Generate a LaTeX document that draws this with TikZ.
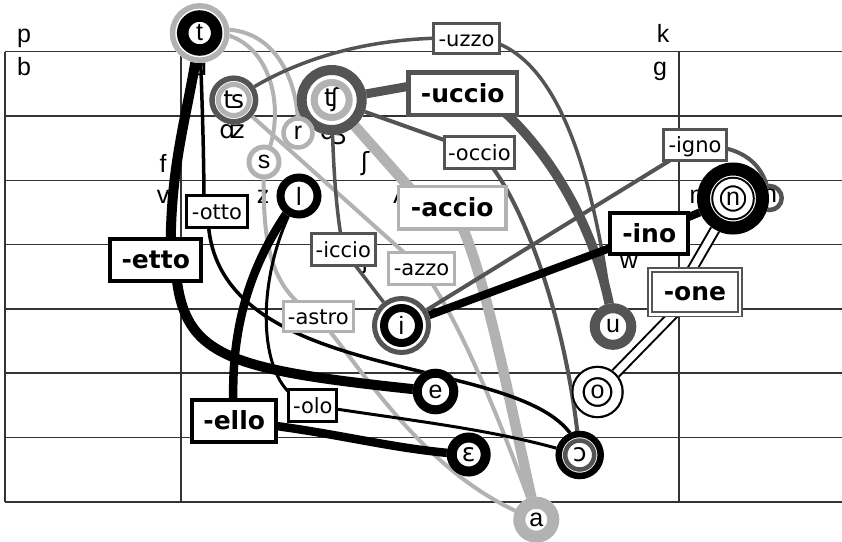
\documentclass[tikz,border=0pt]{standalone}
\usepackage{fontspec}
\setmainfont{DejaVu Sans}
\newfontfamily\latf{Liberation Sans}
\newfontfamily\ipaf{DejaVu Sans}
\usetikzlibrary{calc}
\definecolor{dgr}{gray}{0.33}
\definecolor{lgr}{gray}{0.70}
\definecolor{gridc}{gray}{0.2}
\pgfdeclarelayer{chart}
\pgfdeclarelayer{links}
\pgfsetlayers{chart,links,main}
% concentric ring around a phoneme node: name, colour, radius, width
\newcommand\ringat[4]{\draw[draw=#2, line width=#4pt] (#1.center) circle[radius=#3pt];}

\begin{document}
\begin{tikzpicture}[x=1pt, y=-1pt,
  phone/.style={font=\latf\fontsize{25}{30}\selectfont},
  ipa/.style={font=\ipaf\fontsize{25}{30}\selectfont},
  vtx/.style={circle, fill=white, inner sep=0pt, font=\latf\fontsize{25}{30}\selectfont},
  sfx/.style={rectangle, fill=white, inner sep=0pt, font=\fontsize{21}{25}\selectfont, text height=15.5pt, text depth=0pt},
  sfxb/.style={sfx, font=\bfseries\fontsize{25}{30}\selectfont, text height=17.5pt},
  chartline/.style={draw=gridc, line width=1.5pt},
  lg/.style={draw=lgr, line width=#1pt},
  dg/.style={draw=dgr, line width=#1pt},
  bk/.style={draw=black, line width=#1pt},
  dbl/.style={draw=black, double=white, line width=2pt, double distance=7pt}
]
\useasboundingbox (0,0) rectangle (842,541);

% ---------- consonant chart ----------
\begin{pgfonlayer}{chart}
  \foreach \k in {0,...,7}
    \draw[chartline] (5,{51.7+64.3*\k}) -- (842,{51.7+64.3*\k});
  \foreach \xx in {5,181,679}
    \draw[chartline] (\xx,51.7) -- (\xx,501.8);
  \node[phone, anchor=base] (c-p) at (24,42.5) {p};
  \node[phone, anchor=base] (c-b) at (24,75) {b};
  \node[phone, anchor=base] (c-d) at (200,75) {d};
  \node[phone, anchor=base] (c-k) at (663,42.5) {k};
  \node[phone, anchor=base] (c-g) at (660,75) {g};
  \node[ipa, anchor=base] (c-dz) at (232,138.5) {ʣ};
  \node[ipa, anchor=base] (c-dzh) at (333,139) {ʤ};
  \node[phone, anchor=base] (c-f) at (163,172) {f};
  \node[phone, anchor=base] (c-v) at (163,203) {v};
  \node[phone, anchor=base] (c-z) at (263,203) {z};
  \node[ipa, anchor=base] (c-sh) at (365,170) {ʃ};
  \node[ipa, anchor=base] (c-lj) at (400,203) {ʎ};
  \node[phone, anchor=base] (c-m) at (700,203) {m};
  \node[phone, anchor=base] (c-j) at (365,268) {j};
  \node[phone, anchor=base] (c-w) at (629,268) {w};
\end{pgfonlayer}

% ---------- phoneme nodes ----------
\node[vtx, minimum size=60pt] (t) at (199.7,33) {t};
\ringat{t}{lgr}{27.2}{5.5}
\ringat{t}{black}{17}{11.5}

\node[vtx, ipa, minimum size=49pt] (ts) at (233.8,100) {ʦ};
\ringat{ts}{dgr}{21.8}{5.5}
\ringat{ts}{lgr}{15.5}{5}

\node[vtx, ipa, minimum size=70pt] (tch) at (331.7,100) {ʧ};
\ringat{tch}{dgr}{30}{10}
\ringat{tch}{lgr}{17.5}{7}

\node[vtx, minimum size=33.5pt] (r) at (298,133) {r};
\ringat{r}{lgr}{14.5}{4.5}

\node[vtx, minimum size=35pt] (s) at (264,162) {s};
\ringat{s}{lgr}{15}{5}

\node[vtx, minimum size=45pt] (l) at (299,196) {l};
\ringat{l}{black}{18.5}{8}

\node[vtx, ipa, minimum size=28.5pt] (ny) at (769.7,198) {ɲ};
\ringat{ny}{dgr}{12}{4.5}

\node[vtx, minimum size=72pt] (n) at (733,198.5) {n};
\ringat{n}{black}{29.5}{13}
\ringat{n}{black}{16.5}{10.5}
\ringat{n}{white}{16.5}{6.5}

\node[vtx, minimum size=59pt] (i) at (401.5,325.5) {i};
\ringat{i}{dgr}{27}{5}
\ringat{i}{black}{17.5}{8}

\node[vtx, minimum size=46.6pt] (u) at (613,326.5) {u};
\ringat{u}{dgr}{18.3}{10}

\node[vtx, minimum size=45.6pt] (e) at (435.5,391.5) {e};
\ringat{e}{black}{18.3}{9}

\node[vtx, ipa, minimum size=44pt] (eh) at (468.7,454.5) {ɛ};
\ringat{eh}{black}{17}{10}

\node[vtx, minimum size=52.5pt] (o) at (597.5,392) {o};
\ringat{o}{black}{19.5}{13.5}
\ringat{o}{white}{19.5}{9}

\node[vtx, ipa, minimum size=48.5pt] (oh) at (579.7,455) {ɔ};
\ringat{oh}{black}{21}{6.5}
\ringat{oh}{dgr}{14.5}{4.5}

\node[vtx, minimum size=46pt] (a) at (536.3,519.7) {a};
\ringat{a}{lgr}{17}{12}

% ---------- suffix labels ----------
\node[sfx, draw=dgr, line width=3pt, minimum width=65.4pt, minimum height=30.3pt] (uzzo) at (466.5,38.3) {-uzzo};
\node[sfxb, draw=dgr, line width=4.5pt, minimum width=108.8pt, minimum height=42.8pt] (uccio) at (462.7,93.7) {-uccio};
\node[sfx, draw=dgr, line width=3pt, minimum width=70.3pt, minimum height=32pt] (occio) at (479.3,152.5) {-occio};
\node[sfx, draw=dgr, line width=3pt, minimum width=62.4pt, minimum height=31.6pt] (igno) at (695,145) {-igno};
\node[sfxb, draw=lgr, line width=3.5pt, minimum width=107.5pt, minimum height=42.2pt] (accio) at (452.2,207.8) {-accio};
\node[sfx, draw=black, line width=3pt, minimum width=61pt, minimum height=32pt] (otto) at (217,211.5) {-otto};
\node[sfxb, draw=black, line width=4pt, minimum width=91pt, minimum height=42pt] (etto) at (155.8,259.7) {-etto};
\node[sfx, draw=dgr, line width=3pt, minimum width=63.7pt, minimum height=32pt] (iccio) at (343.3,249.8) {-iccio};
\node[sfx, draw=lgr, line width=3pt, minimum width=65.4pt, minimum height=32pt] (azzo) at (421.5,268.2) {-azzo};
\node[sfxb, draw=black, line width=4pt, minimum width=77.7pt, minimum height=41pt] (ino) at (649.2,233.5) {-ino};
\node[sfxb, draw=dgr, double=white, line width=1.8pt, double distance=2.3pt, minimum width=89.5pt, minimum height=44.7pt] (one) at (695,292) {-one};
\node[sfx, draw=lgr, line width=3pt, minimum width=70.3pt, minimum height=30.3pt] (astro) at (318.3,316.7) {-astro};
\node[sfxb, draw=black, line width=4pt, minimum width=84.3pt, minimum height=41.7pt] (ello) at (234.2,421.2) {-ello};
\node[sfx, draw=black, line width=3pt, minimum width=48pt, minimum height=31.3pt] (olo) at (312.8,405.5) {-olo};

% ---------- connectors ----------
\begin{pgfonlayer}{links}
  % light grey family
  \draw[lg=10.5] (tch.center) -- ($(accio)+(-32,-8)$);
  \draw[lg=10.5] (accio.center) .. controls (480,250) and (505,380) .. (a.center);
  \draw[lg=4] (ts.center) -- (azzo.center);
  \draw[lg=4] (azzo.center) .. controls (460,320) and (500,420) .. (a.center);
  \draw[lg=4] (s.center) .. controls (262,240) and (268,290) .. (astro.center);
  \draw[lg=4] (astro.center) .. controls (370,380) and (430,480) .. (a.center);
  \draw[lg=4] (t.center) .. controls (270,25) and (290,110) .. (s.center);
  \draw[lg=4] (t.center) .. controls (265,15) and (300,70) .. (r.center);
  % dark grey family
  \draw[dg=3.5] (ts.center) .. controls (290,60) and (370,35) .. (uzzo.center);
  \draw[dg=3.5] (uzzo.center) .. controls (540,35) and (590,130) .. (u.center);
  \draw[dg=9] (tch.center) -- ($(uccio)+(-45,-9)$);
  \draw[dg=9.5] ($(uccio)+(20,0)$) .. controls (545,140) and (600,230) .. (u.center);
  \draw[dg=4] (tch.center) -- (occio.center);
  \draw[dg=4] (occio.center) .. controls (520,190) and (568,320) .. (oh.center);
  \draw[dg=3.5] (tch.center) .. controls (333,170) and (336,210) .. (iccio.center);
  \draw[dg=3.5] (iccio.center) -- (i.center);
  \draw[dg=4] (i.center) -- (igno.center);
  \draw[dg=4] (igno.center) .. controls (745,145) and (765,165) .. (ny.center);
  % black family
  \draw[bk=10] (t.center) .. controls (190,110) and (169,160) .. ($(etto)+(15,0)$);
  \draw[bk=10] ($(etto)+(20,10)$) .. controls (183,360) and (230,370) .. (e.center);
  \draw[bk=3.5] (t.center) .. controls (202,100) and (204,150) .. ($(otto)+(-13,0)$);
  \draw[bk=3.5] ($(otto)+(-9,0)$) .. controls (205,400) and (560,345) .. (oh.center);
  \draw[bk=3] (l.center) .. controls (255,270) and (255,380) .. ($(olo)+(-12,-5)$);
  \draw[bk=3] (olo.center) .. controls (420,422) and (500,430) .. (oh.center);
  \draw[bk=8.5] (l.center) .. controls (250,260) and (228,330) .. (ello.center);
  \draw[bk=8.5] (ello.center) .. controls (330,430) and (390,450) .. (eh.center);
  \draw[bk=8] (i.center) -- (ino.center);
  \draw[bk=8] (ino.center) -- (n.center);
  % double family
  \draw[dbl] (n.center) -- ($(one)+(-16,0)$);
  \draw[dbl] (one.center) -- (o.center);
\end{pgfonlayer}
\end{tikzpicture}
\end{document}
